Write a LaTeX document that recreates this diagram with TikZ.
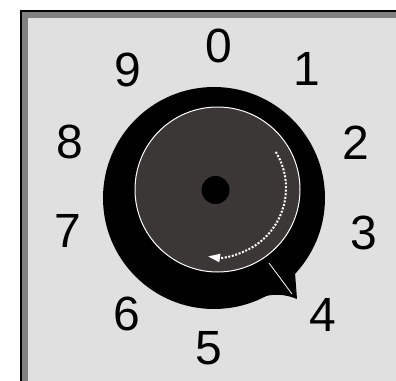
\documentclass[tikz,border=0pt]{standalone}
\usepackage{fontspec}
\setmainfont{Liberation Sans}
\usetikzlibrary{arrows.meta}
\definecolor{panelbg}{RGB}{224,224,224}
\definecolor{panelrim}{RGB}{128,128,128}
\definecolor{knobface}{RGB}{59,55,55}
\begin{document}
\begin{tikzpicture}[
  x=1pt, y=-1pt,
  digit/.style={inner sep=0pt, font=\fontsize{48}{48}\selectfont},
  turn/.style={white, line width=2pt, dash pattern=on 2pt off 1.6pt},
  >={Triangle[length=12pt, width=8pt]}
]
  \clip (0,0) rectangle (396,380);
  \fill[white] (0,0) rectangle (396,380);

  % Panel frame
  \fill[black] (20,10) rectangle (420,400);
  \fill[panelrim] (22,12) rectangle (420,400);
  \fill[panelbg] (28,18) rectangle (420,400);

  % Knob body and pointer
  \coordinate (body) at (214,198);
  \fill[black] (body) circle[radius=111];
  \fill[black] (295,273) -- (297,299)
    .. controls (285,294) and (272,293) .. (260,298) -- (255,275) -- cycle;

  % Knob face
  \coordinate (face) at (217.5,189.5);
  \filldraw[fill=knobface, draw=white, line width=1pt] (face) circle[radius=82.5];
  \fill[black] (215.5,190) circle[radius=14];

  % Index line
  \coordinate (idxa) at (269,263);
  \coordinate (idxb) at (292,294);
  \draw[white, line width=0.8pt] (idxa) -- (idxb);

  % Turning direction
  \draw[turn, ->] (217,188) ++(-31.5:69) arc[start angle=-31.5, end angle=97.5, radius=69];

  % Scale
  \foreach \d/\x/\y in {0/219/46, 1/307/69, 2/356/143, 3/364/233, 4/323/315,
                        5/209/348, 6/127/314, 7/68/231, 8/70/142, 9/128/70}
    \node[digit] (n\d) at (\x,\y) {\d};
\end{tikzpicture}
\end{document}
